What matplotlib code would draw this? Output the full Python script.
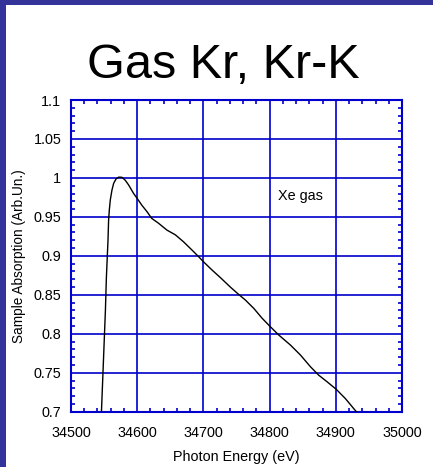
import matplotlib.pyplot as plt
from matplotlib.patches import Rectangle
from matplotlib.ticker import MultipleLocator

plt.rcParams['font.family'] = ['Liberation Sans', 'DejaVu Sans']

# Kr K-edge absorption
energy = [34546, 34552, 34553.4, 34554.8, 34555.9, 34556.8, 34557.9, 34559.4,
          34561.9, 34564.4, 34568, 34572, 34577, 34582, 34587, 34594.6,
          34599.7, 34607, 34614.8, 34622, 34632, 34645, 34657.6, 34670,
          34682.7, 34692.7, 34700, 34712.8, 34727, 34740.6, 34753, 34763.4,
          34776, 34788.6, 34800, 34813.7, 34831.4, 34846.5, 34861.6, 34874,
          34886.7, 34900.7, 34914.3, 34931, 34940]
absorption = [0.700, 0.8305, 0.871, 0.899, 0.920, 0.946, 0.959, 0.972,
              0.9845, 0.993, 0.9986, 1.001, 1.0008, 0.997, 0.991, 0.980,
              0.974, 0.965, 0.9567, 0.948, 0.942, 0.933, 0.927, 0.918,
              0.9075, 0.899, 0.8925, 0.882, 0.871, 0.860, 0.8507, 0.8433,
              0.8327, 0.820, 0.810, 0.7985, 0.7856, 0.7728, 0.7578, 0.747,
              0.7385, 0.7287, 0.717, 0.700, 0.690]

x_ticks = [34500, 34600, 34700, 34800, 34900, 35000]
y_ticks = [0.7, 0.75, 0.8, 0.85, 0.9, 0.95, 1.0, 1.05, 1.1]
y_labels = ['0.7', '0.75', '0.8', '0.85', '0.9', '0.95', '1', '1.05', '1.1']

blue = '#0000cc'

fig = plt.figure(figsize=(4.33, 4.67), dpi=100)
fig.patch.set_facecolor('white')

# slide frame strips
fig.patches.append(Rectangle((0, 1 - 5 / 467), 1, 5 / 467, transform=fig.transFigure,
                             facecolor='#333399', edgecolor='none', zorder=0))
fig.patches.append(Rectangle((0, 0), 6 / 433, 1, transform=fig.transFigure,
                             facecolor='#333399', edgecolor='none', zorder=0))

fig.text(223 / 433, 1 - 78 / 467, 'Gas Kr, Kr-K', ha='center', va='baseline',
         fontsize=35, color='black')

ax = fig.add_axes([71 / 433, 55.3 / 467, 331 / 433, 311.7 / 467])
ax.plot(energy, absorption, color='black', lw=1.0, zorder=3)
ax.set_xlim(34500, 35000)
ax.set_ylim(0.7, 1.1)

ax.set_xticks(x_ticks)
ax.set_xticklabels([str(v) for v in x_ticks])
ax.set_yticks(y_ticks)
ax.set_yticklabels(y_labels)
ax.xaxis.set_minor_locator(MultipleLocator(20))
ax.yaxis.set_minor_locator(MultipleLocator(0.01))

ax.grid(True, which='major', color=blue, lw=1.2)
ax.set_axisbelow(True)
for s in ax.spines.values():
    s.set_color(blue)
    s.set_linewidth(1.5)

ax.tick_params(which='both', direction='in', top=True, right=True,
               color=blue, labelsize=10.4, labelcolor='black')
ax.tick_params(which='major', length=0, width=1.2)
ax.tick_params(which='minor', length=3, width=1.2)
ax.tick_params(axis='x', which='major', pad=10.5)
ax.tick_params(axis='y', which='major', pad=7)

ax.text(34846, 0.9768, 'Xe gas', ha='center', va='center', fontsize=10.4)

ax.set_xlabel('Photon Energy (eV)', fontsize=10.4, labelpad=7)
ax.set_ylabel('Sample Absorption (Arb.Un.)', fontsize=9.8, labelpad=5)

fig.savefig('out.png', dpi=100)
